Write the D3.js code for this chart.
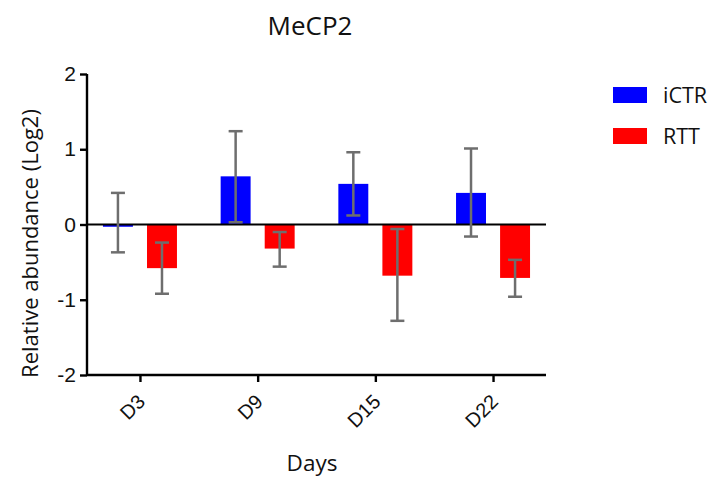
<!DOCTYPE html>
<html>
<head>
<meta charset="utf-8">
<script src="https://cdn.jsdelivr.net/npm/d3@7"></script>
<style>
  html, body { margin: 0; padding: 0; background: #fff; }
  svg { display: block; font-family: "Open Sans", "Noto Sans", sans-serif; font-weight: 500; }
</style>
</head>
<body>
<svg id="chart" width="714" height="478"></svg>
<script>
// MeCP2 relative abundance (log2) per day, control vs. Rett lines
const days = ["D3", "D9", "D15", "D22"];
const series = ["iCTR", "RTT"];
const colors = ["#0000ff", "#ff0000"];

const ctrMean = [-0.03, 0.64, 0.54, 0.42];
const ctrErrHigh = [0.42, 1.24, 0.96, 1.01];
const ctrErrLow = [-0.37, 0.03, 0.12, -0.16];

const rttMean = [-0.58, -0.32, -0.68, -0.71];
const rttErrHigh = [-0.24, -0.10, -0.06, -0.47];
const rttErrLow = [-0.92, -0.56, -1.28, -0.96];

const yTicks = [-2, -1, 0, 1, 2];

const rows = [];
days.forEach((d, i) => {
  rows.push({ day: d, s: "iCTR", v: ctrMean[i], hi: ctrErrHigh[i], lo: ctrErrLow[i] });
  rows.push({ day: d, s: "RTT", v: rttMean[i], hi: rttErrHigh[i], lo: rttErrLow[i] });
});

const svg = d3.select("#chart");
const plotL = 87, plotR = 546, plotT = 74, plotB = 375;

const x = d3.scalePoint().domain(days).range([plotL, plotR]).padding(0.45);
const xs = d3.scaleBand().domain(series).range([-37, 37]).paddingInner(0.32);
const y = d3.scaleLinear().domain([-2, 2]).range([plotB, plotT]);
const color = d3.scaleOrdinal().domain(series).range(colors);

// bars
svg.append("g").selectAll("rect")
  .data(rows).join("rect")
  .attr("x", d => x(d.day) + xs(d.s))
  .attr("width", xs.bandwidth())
  .attr("y", d => Math.min(y(d.v), y(0)))
  .attr("height", d => Math.abs(y(d.v) - y(0)))
  .attr("fill", d => color(d.s));

// zero line
svg.append("line")
  .attr("x1", plotL).attr("x2", plotR)
  .attr("y1", y(0)).attr("y2", y(0))
  .attr("stroke", "#000").attr("stroke-width", 2.2);

// error bars
const eb = svg.append("g").attr("stroke", "#6e6e6e").attr("stroke-width", 2.5).attr("fill", "none");
const cap = 7;
rows.forEach(d => {
  const cx = x(d.day) + xs(d.s) + xs.bandwidth() / 2;
  eb.append("line").attr("x1", cx).attr("x2", cx).attr("y1", y(d.hi)).attr("y2", y(d.lo));
  eb.append("line").attr("x1", cx - cap).attr("x2", cx + cap).attr("y1", y(d.hi)).attr("y2", y(d.hi));
  eb.append("line").attr("x1", cx - cap).attr("x2", cx + cap).attr("y1", y(d.lo)).attr("y2", y(d.lo));
});

// y axis
const yAxis = svg.append("g")
  .attr("transform", `translate(${plotL},0)`)
  .call(d3.axisLeft(y).tickValues(yTicks).tickSize(7).tickPadding(4).tickFormat(d3.format("d")));
yAxis.select(".domain").attr("stroke", "#000").attr("stroke-width", 2.4)
  .attr("d", `M0,${plotT}V${plotB}`);
yAxis.selectAll(".tick line").attr("stroke", "#000").attr("stroke-width", 2.4);
yAxis.selectAll(".tick text").attr("fill", "#111").style("font-size", "21px")
  .attr("font-weight", 500)
  .text(d => d < 0 ? "-" + Math.abs(d) : d);

// x axis
const xAxis = svg.append("g")
  .attr("transform", `translate(0,${plotB})`)
  .call(d3.axisBottom(x).tickSize(7));
xAxis.select(".domain").attr("stroke", "#000").attr("stroke-width", 2.4)
  .attr("d", `M${plotL},0H${plotR}`);
xAxis.selectAll(".tick line").attr("stroke", "#000").attr("stroke-width", 2.4);
xAxis.selectAll(".tick text")
  .attr("fill", "#111").style("font-size", "20px")
  .attr("font-weight", 500)
  .attr("text-anchor", "end")
  .attr("x", 0).attr("y", 0)
  .attr("dy", "0.35em")
  .attr("transform", "translate(1,23) rotate(-45)");

// titles
svg.append("text").attr("x", 310).attr("y", 35).attr("text-anchor", "middle")
  .attr("fill", "#111").style("font-size", "26px").text("MeCP2");
svg.append("text").attr("x", 312).attr("y", 471).attr("text-anchor", "middle")
  .attr("fill", "#111").style("font-size", "22.5px").text("Days");
svg.append("text")
  .attr("transform", `translate(38,${(107 + 380) / 2}) rotate(-90)`)
  .attr("text-anchor", "middle").attr("fill", "#111").style("font-size", "22px")
  .text("Relative abundance (Log2)");

// legend
const lg = svg.append("g").selectAll("g").data(series).join("g")
  .attr("transform", (d, i) => `translate(613,${87 + i * 41})`);
lg.append("rect").attr("width", 34).attr("height", 16).attr("fill", d => color(d));
lg.append("text").attr("x", 50).attr("y", 16).attr("fill", "#111")
  .style("font-size", "21.5px").text(d => d);
</script>
</body>
</html>
